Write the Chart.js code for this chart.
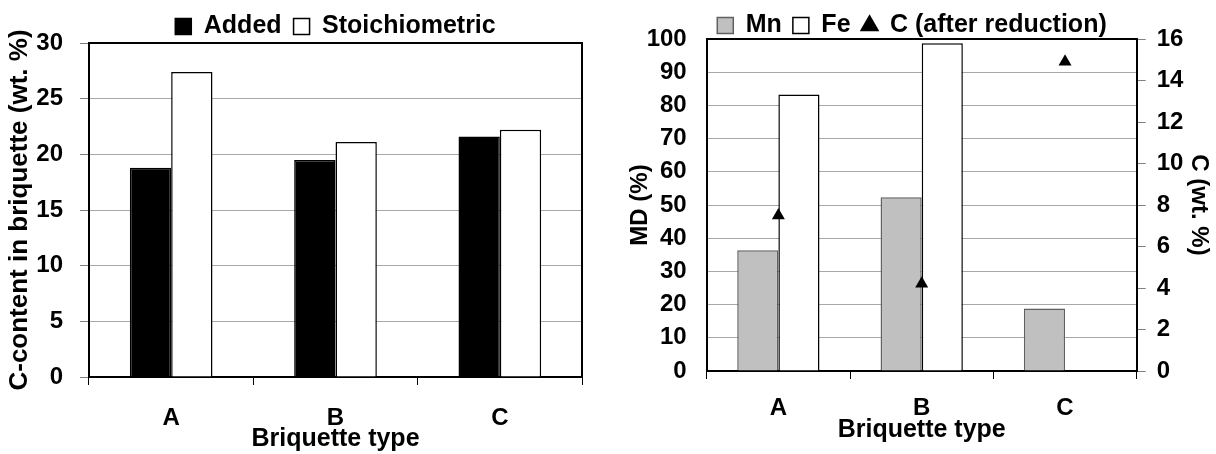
<!DOCTYPE html>
<html>
<head>
<meta charset="utf-8">
<script src="https://cdn.jsdelivr.net/npm/chart.js@4/dist/chart.umd.min.js"></script>
<style>
  html, body { margin: 0; padding: 0; background: #fff; }
  #wrap { position: relative; width: 1216px; height: 454px; overflow: hidden; }
  canvas { position: absolute; top: 0; }
</style>
</head>
<body>
<div id="wrap">
  <canvas id="left" width="608" height="454" style="left:0"></canvas>
  <canvas id="right" width="608" height="454" style="left:608px"></canvas>
</div>
<script>
// ---- data ----
const categories = ['A', 'B', 'C'];
const addedC = [18.8, 19.5, 21.6];
const stoichC = [27.4, 21.1, 22.2];
const mnMD = [36.4, 52.3, 18.8];
const feMD = [83.3, 98.7, null];
const cAfterReduction = [7.5, 4.2, 14.9];
const leftYTicks = { min: 0, max: 30, step: 5 };
const rightYTicks = { min: 0, max: 100, step: 10 };
const rightY1Ticks = { min: 0, max: 16, step: 2 };

const FONT = '"Liberation Sans", Arial, Helvetica, sans-serif';
const tickFont = { family: FONT, size: 24, weight: 'bold' };
const xTitleFont = { family: FONT, size: 25, weight: 'bold' };
const leftYTitleFont = { family: FONT, size: 26, weight: 'bold' };
const rightYTitleFont = { family: FONT, size: 24, weight: 'bold' };
const legendFont = { family: FONT, size: 25, weight: 'bold' };
const GRID = '#a8a8a8';

const frame = {
  id: 'frame',
  afterDatasetsDraw(chart, args, opts) {
    const a = chart.chartArea, ctx = chart.ctx;
    ctx.save();
    ctx.strokeStyle = '#000';
    ctx.lineWidth = 2;
    ctx.beginPath();
    ctx.moveTo(a.left, a.top);
    ctx.lineTo(a.right, a.top);
    if (opts.right) ctx.lineTo(a.right, a.bottom);
    ctx.stroke();
    ctx.restore();
  }
};

Chart.defaults.color = '#000';
Chart.defaults.font.family = FONT;

// ---- left chart ----
new Chart(document.getElementById('left'), {
  type: 'bar',
  data: {
    labels: categories,
    datasets: [
      { label: 'Added', data: addedC, backgroundColor: '#000', borderColor: '#000', borderWidth: 1.5 },
      { label: 'Stoichiometric', data: stoichC, backgroundColor: '#fff', borderColor: '#000', borderWidth: 1.5 }
    ]
  },
  options: {
    responsive: false,
    animation: false,
    devicePixelRatio: 1,
    layout: { padding: { left: 0, right: 26, top: 2, bottom: 0 } },
    datasets: { bar: { categoryPercentage: 0.503, barPercentage: 1.0 } },
    plugins: {
      frame: { right: true },
      tooltip: { enabled: false },
      legend: {
        position: 'top',
        fullSize: false,
        maxHeight: 41,
        labels: { font: legendFont, color: '#000', boxWidth: 16, boxHeight: 16, padding: 12 }
      }
    },
    scales: {
      x: {
        grid: { display: true, offset: true, drawOnChartArea: false, color: '#000', tickLength: 8, tickWidth: 1 },
        border: { color: '#000', width: 2 },
        ticks: { font: tickFont, color: '#000', padding: 19 },
        title: { display: true, text: 'Briquette type', font: xTitleFont, color: '#000', padding: { top: 0, bottom: 0 } },
        afterFit(s) { s.height = 77; }
      },
      y: {
        min: leftYTicks.min, max: leftYTicks.max,
        ticks: { stepSize: leftYTicks.step, font: tickFont, color: '#000', padding: 17 },
        grid: { color: GRID, tickColor: '#808080', tickLength: 9, lineWidth: 1 },
        border: { color: '#000', width: 2 },
        title: { display: true, text: 'C-content in briquette (wt. %)', font: leftYTitleFont, color: '#000', padding: { top: 4, bottom: 0 } },
        afterFit(s) { s.width = 89; }
      }
    }
  },
  plugins: [frame]
});

// ---- right chart ----
new Chart(document.getElementById('right'), {
  type: 'bar',
  data: {
    labels: categories,
    datasets: [
      { label: 'Mn', data: mnMD, backgroundColor: '#c0c0c0', borderColor: '#606060', borderWidth: 1.5, pointStyle: 'rect', yAxisID: 'y', order: 1 },
      { label: 'Fe', data: feMD, backgroundColor: '#fff', borderColor: '#000', borderWidth: 1.5, pointStyle: 'rect', yAxisID: 'y', order: 1 },
      { type: 'line', label: 'C (after reduction)', data: cAfterReduction, yAxisID: 'y1', showLine: false,
        pointStyle: 'triangle', pointRadius: 7.5, pointHoverRadius: 7.5,
        backgroundColor: '#000', borderColor: '#000', pointBorderWidth: 0, order: 0 }
    ]
  },
  options: {
    responsive: false,
    animation: false,
    devicePixelRatio: 1,
    layout: { padding: { left: 0, right: 0, top: 2, bottom: 9 } },
    datasets: { bar: { categoryPercentage: 0.574, barPercentage: 1.0 } },
    plugins: {
      frame: { right: false },
      tooltip: { enabled: false },
      legend: {
        position: 'top',
        fullSize: true,
        maxHeight: 37,
        labels: {
          font: legendFont, color: '#000', usePointStyle: true, boxWidth: 16, boxHeight: 16, padding: 11,
          sort: (a, b) => a.datasetIndex - b.datasetIndex
        }
      }
    },
    scales: {
      x: {
        grid: { display: true, offset: true, drawOnChartArea: false, color: '#000', tickLength: 8, tickWidth: 1 },
        border: { color: '#000', width: 2 },
        ticks: { font: tickFont, color: '#000', padding: 15 },
        title: { display: true, text: 'Briquette type', font: xTitleFont, color: '#000', padding: { top: 0, bottom: 0 } },
        afterFit(s) { s.height = 74; }
      },
      y: {
        position: 'left',
        min: rightYTicks.min, max: rightYTicks.max,
        ticks: { stepSize: rightYTicks.step, font: tickFont, color: '#000', padding: 20 },
        grid: { color: GRID, drawTicks: false, lineWidth: 1 },
        border: { color: '#000', width: 2 },
        title: { display: true, text: 'MD (%)', font: rightYTitleFont, color: '#000', padding: { top: 18, bottom: 0 } },
        afterFit(s) { s.width = 98.7; }
      },
      y1: {
        position: 'right',
        min: rightY1Ticks.min, max: rightY1Ticks.max,
        ticks: { stepSize: rightY1Ticks.step, font: tickFont, color: '#000', padding: 11 },
        grid: { drawOnChartArea: false, tickColor: '#808080', tickLength: 9 },
        border: { color: '#000', width: 2 },
        title: { display: true, text: 'C (wt. %)', font: rightYTitleFont, color: '#000', padding: { top: 3, bottom: 0 } },
        afterFit(s) { s.width = 79.3; }
      }
    }
  },
  plugins: [frame]
});
</script>
</body>
</html>
